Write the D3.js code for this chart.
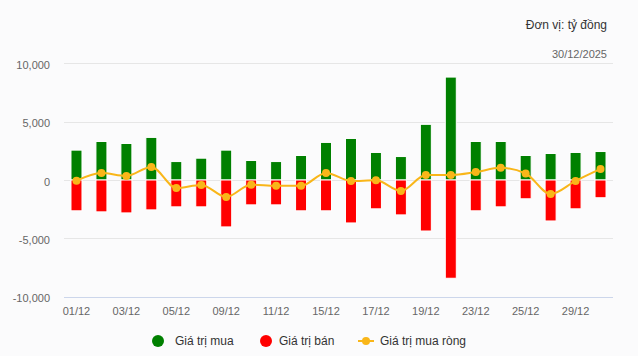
<!DOCTYPE html>
<html>
<head>
<meta charset="utf-8">
<script src="https://cdn.jsdelivr.net/npm/d3@7"></script>
<style>
  html, body { margin: 0; padding: 0; background: #fbfbfc; }
  svg { display: block; font-family: "Liberation Sans", Arial, sans-serif; }
</style>
</head>
<body>
<svg id="chart" width="638" height="356"></svg>
<script>
const categories = ["01/12","02/12","03/12","04/12","05/12","08/12","09/12","10/12","11/12","12/12","15/12","16/12","17/12","18/12","19/12","22/12","23/12","24/12","25/12","26/12","29/12","30/12"];
const buyValues  = [2560, 3300, 3130, 3650, 1580, 1870, 2560, 1670, 1580, 2100, 3220, 3560, 2360, 2010, 4770, 8820, 3300, 3300, 2100, 2270, 2360, 2440];
const sellValues = [-2640, -2730, -2820, -2560, -2300, -2300, -4020, -2130, -2130, -2640, -2640, -3680, -2470, -2990, -4370, -8420, -2640, -2300, -1610, -3510, -2470, -1520];
const netValues  = [-60, 600, 350, 1120, -680, -420, -1450, -400, -500, -500, 610, -80, -30, -940, 430, 430, 680, 1040, 560, -1200, -80, 950];
const yTicks = [-10000, -5000, 0, 5000, 10000];
const seriesNames = ["Giá trị mua", "Giá trị bán", "Giá trị mua ròng"];
const unitText = "Đơn vị: tỷ đồng";
const dateText = "30/12/2025";

(function () {
const colors = { buy: "#008000", sell: "#ff0000", net: "#f9b619" };

const svg = d3.select("#chart");
const pLeft = 64, pRight = 613, pTop = 63.3, pBottom = 296.7;

const x = d3.scaleBand().domain(categories).range([pLeft, pRight]).padding(0);
const y = d3.scaleLinear().domain([-10000, 10000]).range([pBottom, pTop]);
const fmt = d3.formatLocale({decimal: ".", thousands: ",", grouping: [3], currency: ["", ""], minus: "-"}).format(",");
const ff = "\"Liberation Sans\", Arial, sans-serif";

// gridlines
svg.append("g").selectAll("line").data(yTicks).join("line")
  .attr("x1", pLeft).attr("x2", pRight)
  .attr("y1", d => Math.round(y(d)) + 0.5).attr("y2", d => Math.round(y(d)) + 0.5)
  .attr("stroke", d => d === -10000 ? "#ccd6eb" : "#e6e6e6").attr("stroke-width", 1);

// y axis labels
const yAxis = d3.axisLeft(y).tickValues(yTicks).tickFormat(fmt).tickSize(0).tickPadding(0);
const gy = svg.append("g").attr("transform", "translate(50,1.5)").call(yAxis);
gy.select(".domain").remove();
gy.selectAll("text").attr("fill", "#666").attr("font-size", "11px").attr("font-family", ff);

// x axis labels
const xAxis = d3.axisBottom(x).tickValues(categories.filter((d, i) => i % 2 === 0)).tickSize(0).tickPadding(0);
const gx = svg.append("g").attr("transform", "translate(0,307.5)").call(xAxis);
gx.select(".domain").remove();
gx.selectAll("text").attr("fill", "#666").attr("font-size", "11px").attr("font-family", ff);

const bw = 11;
const cx = i => x(categories[i]) + x.bandwidth() / 2;
// buy bars
svg.append("g").selectAll("rect").data(buyValues).join("rect")
  .attr("x", (d, i) => cx(i) - bw / 2)
  .attr("y", d => y(d))
  .attr("width", bw)
  .attr("height", d => y(0) - y(d))
  .attr("fill", colors.buy).attr("stroke", "#ffffff").attr("stroke-width", 1);

// sell bars
svg.append("g").selectAll("rect").data(sellValues).join("rect")
  .attr("x", (d, i) => cx(i) - bw / 2)
  .attr("y", d => y(0))
  .attr("width", bw)
  .attr("height", d => y(d) - y(0))
  .attr("fill", colors.sell).attr("stroke", "#ffffff").attr("stroke-width", 1);

// net line
const line = d3.line()
  .x((d, i) => cx(i))
  .y(d => y(d))
  .curve(d3.curveMonotoneX);
svg.append("path").datum(netValues).attr("d", line)
  .attr("fill", "none").attr("stroke", colors.net).attr("stroke-width", 2);
svg.append("g").selectAll("circle").data(netValues).join("circle")
  .attr("cx", (d, i) => cx(i))
  .attr("cy", d => y(d))
  .attr("r", 4)
  .attr("fill", colors.net);

// top-right texts
svg.append("text").attr("x", 607).attr("y", 29).attr("text-anchor", "end")
  .attr("font-size", "12px").attr("fill", "#333").text(unitText);
svg.append("text").attr("x", 607).attr("y", 58).attr("text-anchor", "end")
  .attr("font-size", "11px").attr("fill", "#666").text(dateText);

// legend
const ly = 341;
const lg = svg.append("g");
lg.append("circle").attr("cx", 158).attr("cy", ly).attr("r", 6).attr("fill", colors.buy);
lg.append("text").attr("x", 175).attr("y", ly + 4).attr("font-size", "12px").attr("fill", "#333").text(seriesNames[0]);
lg.append("circle").attr("cx", 266).attr("cy", ly).attr("r", 6).attr("fill", colors.sell);
lg.append("text").attr("x", 279).attr("y", ly + 4).attr("font-size", "12px").attr("fill", "#333").text(seriesNames[1]);
lg.append("line").attr("x1", 358).attr("x2", 374).attr("y1", ly).attr("y2", ly).attr("stroke", colors.net).attr("stroke-width", 2);
lg.append("circle").attr("cx", 366).attr("cy", ly).attr("r", 4).attr("fill", colors.net);
lg.append("text").attr("x", 380).attr("y", ly + 4).attr("font-size", "12px").attr("fill", "#333").text(seriesNames[2]);
})();
</script>
</body>
</html>
